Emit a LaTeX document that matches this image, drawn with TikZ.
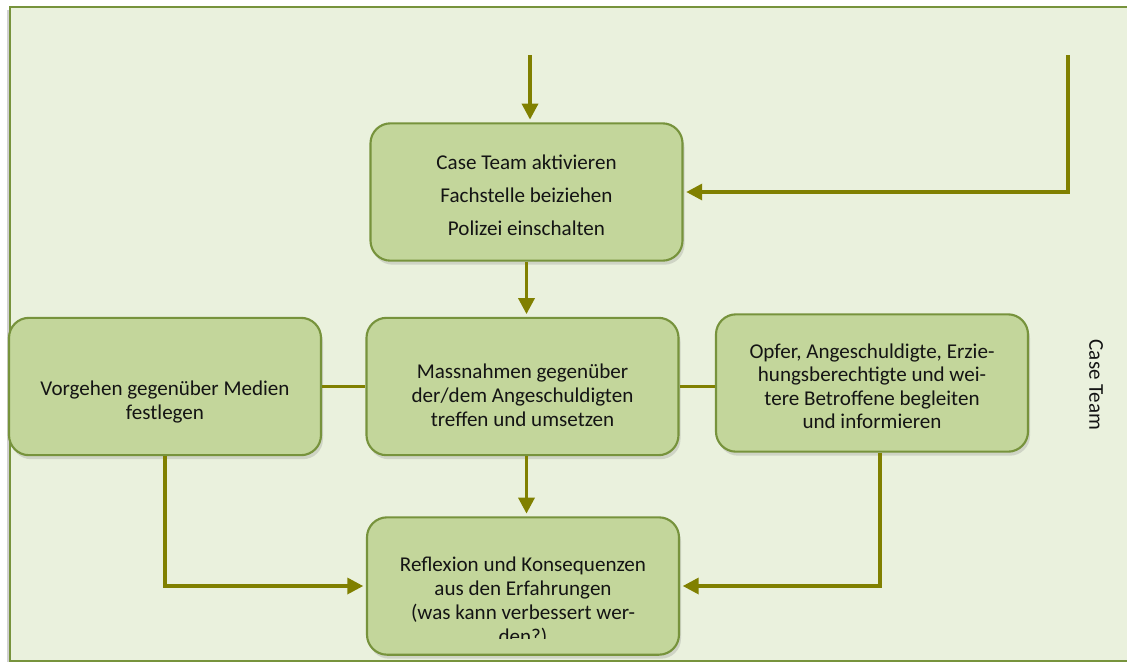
\documentclass[tikz,border=0pt]{standalone}
\usepackage{fontspec}
\setmainfont{Carlito}
\usetikzlibrary{arrows.meta,shadows}
\definecolor{paper}{RGB}{234,241,221}
\definecolor{boxfill}{RGB}{195,214,155}
\definecolor{boxline}{RGB}{119,147,60}
\definecolor{flowcol}{RGB}{128,128,0}
\definecolor{ink}{RGB}{20,20,20}
\newcommand{\padtop}[1]{\rule{0pt}{#1}}

\begin{document}
\begin{tikzpicture}[x=0.75pt, y=-0.75pt, font=\fontsize{15.8}{17.5}\selectfont,
  stepbox/.style={draw=boxline, line width=1.6pt, fill=boxfill, rounded corners=15pt,
    minimum width=234pt, minimum height=103pt, align=center, text=ink,
    drop shadow={opacity=0.25, shadow xshift=1.5pt, shadow yshift=-3pt}},
  flow/.style={flowcol, line width=2.6pt, -{Triangle[length=12pt,width=12pt]}, shorten >=2pt},
  link/.style={flowcol, line width=2.6pt}]
\useasboundingbox (0,0) rectangle (1127,662);
% frame
\fill[black!18] (7,10) rectangle (10,662);
\fill[paper, draw=boxline, line width=1.5pt] (10,7) rectangle (1132,661);
% steps
\node[stepbox] (aktiv) at (526.5,192) {\padtop{16pt}Case Team aktivieren\\[7pt]Fachstelle beiziehen\\[7pt]Polizei einschalten};
\node[stepbox] (medien) at (165,386.5) {\padtop{34pt}Vorgehen gegenüber Medien\\festlegen};
\node[stepbox, font=\fontsize{15.8}{18}\selectfont] (massn) at (522.5,386.5) {\padtop{23.5pt}Massnahmen gegenüber\\der/dem Angeschuldigten\\treffen und umsetzen};
\node[stepbox] (opfer) at (872,383) {\padtop{16pt}Opfer, Angeschuldigte, Erzie-\\hungsberechtigte und wei-\\tere Betroffene begleiten\\und informieren};
\node[stepbox] (reflex) at (523,586) {};
\begin{scope}
  \clip (367,517) rectangle (679,638);
  \node[align=center, anchor=north, text=ink, font=\fontsize{15.8}{18}\selectfont] (reflextxt) at (523,552)
    {Reflexion und Konsequenzen\\aus den Erfahrungen\\(was kann verbessert wer-\\den?)};
\end{scope}
\node[rotate=-90, text=ink] (caseteam) at (1096,385) {Case Team};
% connectors
\coordinate (inTop) at (530,55);
\coordinate (inRight) at (1068,55);
\draw[flow] (inTop) -- (inTop |- aktiv.north);
\draw[flow] (inRight) |- (aktiv.east);
\draw[flow] (aktiv.south) -- (aktiv.south |- massn.north);
\draw[link] (medien.east) -- (massn.west);
\draw[link] (massn.east) -- (massn.east -| opfer.west);
\draw[flow] (aktiv.south |- massn.south) -- (aktiv.south |- reflex.north);
\draw[flow] (medien.south) |- (reflex.west);
\draw[flow] ([xshift=6pt]opfer.south) |- (reflex.east);
\end{tikzpicture}
\end{document}
